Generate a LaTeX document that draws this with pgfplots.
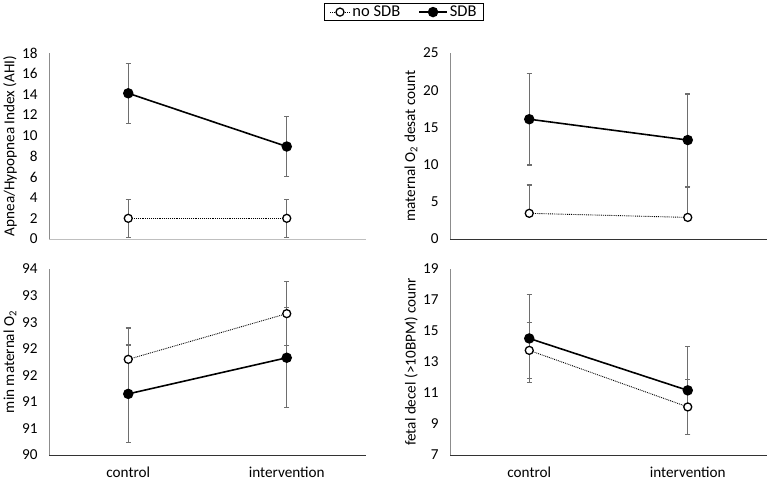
\documentclass[border=0pt]{standalone}
\usepackage{fontspec}
\setmainfont{Carlito}
\usepackage{pgfplots}
\pgfplotsset{compat=1.18}
\definecolor{errgray}{HTML}{6E6E6E}
\definecolor{axgray}{HTML}{8C8C8C}
\newcommand{\chartfont}{\fontsize{15.2bp}{18bp}\selectfont}
\pgfplotsset{
  panel/.style={
    scale only axis, width=317bp, height=186bp,
    axis lines*=left,
    axis line style={axgray, line width=0.9pt},
    xmin=-0.5, xmax=1.5, xtick={0,1},
    major tick length=0,
    /pgf/number format/assume math mode=true,
    tick label style={font=\chartfont, black},
    yticklabel style={xshift=-8bp},
    xticklabel style={yshift=-8bp},
    every axis y label/.style={at={([xshift=-39bp]axis description cs:0,0.5)}, rotate=90, anchor=center, font=\chartfont},
    error bars/error bar style={errgray, solid, line width=1.3pt},
    error bars/error mark options={errgray, solid, line width=1.3pt, mark size=2.6bp, rotate=90},
  },
  nosdb/.style={black, line width=0.9pt, densely dotted, mark=*, mark size=4.0bp,
    mark options={solid, fill=white, draw=black, line width=1.3pt},
    error bars/y dir=both, error bars/y explicit},
  sdb/.style={black, line width=1.6pt, mark=*, mark size=4.4bp,
    mark options={solid, fill=black, draw=black},
    error bars/y dir=both, error bars/y explicit},
}
\begin{document}
\begin{tikzpicture}
\useasboundingbox (0,0) rectangle (767bp,481bp);
% top-left
\begin{axis}[panel, at={(49bp,242bp)}, anchor=south west,
  ymin=0, ymax=18, ytick={0,2,...,18}, xticklabels={},
  x axis line style={draw=black!25},
  ylabel={Apnea/Hypopnea Index (AHI)},
  legend columns=2,
  legend style={at={(1.12,1.22)}, anchor=center, draw=black, line width=1.3pt,
    font=\fontsize{16.5bp}{19bp}\selectfont, inner xsep=5bp, inner ysep=0.5bp,
    /tikz/every even column/.append style={column sep=16bp}},
]
\addplot[nosdb, legend image code/.code={\draw[mark repeat=2,mark phase=2] plot coordinates {(0bp,0bp)(10bp,0bp)(20bp,0bp)};}]
  coordinates {(0,2.0) +- (0,1.85) (1,2.0) +- (0,1.85)};
\addlegendentry{no SDB}
\addplot[sdb, legend image code/.code={\draw[mark repeat=2,mark phase=2] plot coordinates {(0bp,0bp)(14bp,0bp)(28bp,0bp)};}]
  coordinates {(0,14.1) +- (0,2.9) (1,8.95) +- (0,2.9)};
\addlegendentry{SDB}
\end{axis}
% top-right
\begin{axis}[panel, at={(450bp,242bp)}, anchor=south west,
  ymin=0, ymax=25, ytick={0,5,...,25}, xticklabels={},
  x axis line style={draw=black!80},
  ylabel={maternal O\textsubscript{2} desat count},
]
\addplot[nosdb, error bars/y dir=plus] coordinates {(0,3.45) +- (0,3.8) (1,2.9) +- (0,4.1)};
\addplot[sdb] coordinates {(0,16.1) +- (0,6.15) (1,13.3) +- (0,6.2)};
\end{axis}
% bottom-left
\begin{axis}[panel, at={(49bp,26bp)}, anchor=south west,
  ymin=90, ymax=93.5, ytick={90,90.5,...,93.5},
  yticklabels={90,91,91,92,92,93,93,94},
  xticklabels={control,intervention},
  x axis line style={draw=black!80},
  ylabel={min maternal O\textsubscript{2}},
]
\addplot[nosdb] coordinates {(0,91.80) +- (0,0.59) (1,92.66) +- (0,0.6)};
\addplot[sdb] coordinates {(0,91.15) +- (0,0.92) (1,91.83) +- (0,0.94)};
\end{axis}
% bottom-right
\begin{axis}[panel, at={(450bp,26bp)}, anchor=south west,
  ymin=7, ymax=19, ytick={7,9,...,19},
  xticklabels={control,intervention},
  x axis line style={draw=black!80},
  ylabel={fetal decel (>10BPM) counr},
]
\addplot[nosdb] coordinates {(0,13.75) +- (0,1.8) (1,10.1) +- (0,1.76)};
\addplot[sdb] coordinates {(0,14.52) +- (0,2.84) (1,11.17) +- (0,2.83)};
\end{axis}
\end{tikzpicture}
\end{document}
